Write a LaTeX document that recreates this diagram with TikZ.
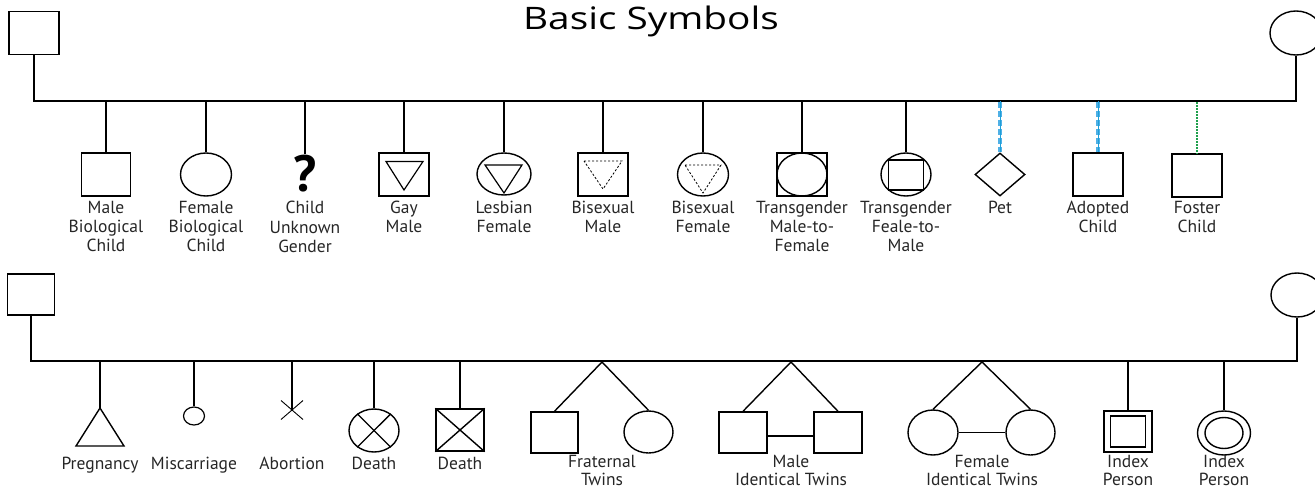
\documentclass[tikz,border=0pt]{standalone}
\usepackage{fontspec}
\setmainfont{PT Sans}
\newfontfamily\titlefont[FakeStretch=1.25]{Open Sans}
\usetikzlibrary{shapes.geometric,calc}
\definecolor{adoptblue}{HTML}{4FB0E6}
\definecolor{adoptline}{HTML}{1E9FD8}
\definecolor{fostergreen}{HTML}{1FA04C}
\begin{document}
\begin{tikzpicture}[x=1pt,y=-1pt,line width=1.4pt,
  sq/.style={draw,rectangle,minimum width=49pt,minimum height=43pt,inner sep=0pt},
  el/.style={draw,ellipse,minimum width=51pt,minimum height=43pt,inner sep=0pt},
  dia/.style={draw,diamond,minimum width=50pt,minimum height=43pt,inner sep=0pt},
  lbl/.style={font=\fontsize{17.5}{19.4}\selectfont,align=center,anchor=base,inner sep=0pt,text=black!85},
  lblb/.style={lbl,font=\fontsize{17.5}{18.6}\selectfont},
  thinl/.style={line width=0.9pt},
  dashtri/.style={line width=0.8pt,dash pattern=on 2.2pt off 1.8pt},
  adoptlink/.style={adoptline,line width=0.9pt},
  adoptdash/.style={adoptblue,line width=3.2pt,dash pattern=on 6pt off 3pt},
  fosterlink/.style={fostergreen,line width=2pt,dash pattern=on 1.6pt off 1.4pt}
]
\useasboundingbox (0,0) rectangle (1315,490);
% title
\node[font=\titlefont\fontsize{31}{33}\selectfont,anchor=base,inner sep=0pt] (title) at (651,29) {Basic Symbols};

% ---------- top row ----------
\node[sq,minimum width=50pt] (p1) at (34,33) {};
\node[el,minimum width=52pt,minimum height=44pt] (p2) at (1296,33) {};
\coordinate (b1) at (600,101);
\draw (p1.south) -- (p1.south |- b1) -- (p2.south |- b1) -- (p2.south);

\node[sq] (c1) at (106,174.5) {};
\node[el] (c2) at (206,174.5) {};
\node[font=\bfseries\fontsize{51}{51}\selectfont,anchor=base,inner sep=0pt] (c3) at (305,191) {?};
\node[sq,minimum width=50pt] (c4) at (404,174.5) {};
\draw[thinl,line width=1.2pt] ($(c4)+(-18,-13)$) -- ($(c4)+(19,-13)$) -- ($(c4)+(0,15.5)$) -- cycle;
\node[el,minimum width=54pt,minimum height=42pt] (c5) at (504,174) {};
\node[sq,minimum width=50pt] (c6) at (603,174.5) {};
\node[el] (c7) at (703,174.5) {};
\node[sq,minimum width=50pt] (c8) at (802,174.5) {};
\node[draw,ellipse,minimum width=50pt,minimum height=43pt,inner sep=0pt] (c8i) at (c8) {};
\node[el,minimum width=50pt] (c9) at (906,174.5) {};
\node[draw,rectangle,minimum width=35pt,minimum height=30pt,inner sep=0pt] (c9i) at (906,175) {};
\node[dia] (c10) at (1000,174.5) {};
\node[sq,minimum width=50pt] (c11) at (1098,174.5) {};
\node[sq,minimum width=50pt] (c12) at (1197,175.5) {};

\foreach \n in {c1,c2,c3,c4,c5,c6,c7,c8,c9}{
  \draw (\n.north |- b1) -- (\n.north);
}
\foreach \n in {c10,c11}{
  \draw[adoptdash] ([yshift=-1pt]\n.north |- b1) -- (\n.north);
  \draw[adoptlink] (\n.north |- b1) -- (\n.north);
}
\draw[fosterlink] ([yshift=-1pt]c12.north |- b1) -- (c12.north);

% triangles inside lesbian / bisexual
\draw[line width=1.2pt] (485,165) -- (522,165) -- (504,193) -- cycle;
\draw[dashtri] (584,161) -- (622,161) -- (603,189) -- cycle;
\draw[dashtri] (685,165) -- (721,165) -- (703,193) -- cycle;

% top labels (anchor = baseline of the last line)
\node[lbl] (l1) at (106,251.8) {Male\\Biological\\Child};
\node[lbl] (l2) at (206,251.8) {Female\\Biological\\Child};
\node[lbl] (l3) at (305,252.5) {Child\\Unknown\\Gender};
\node[lbl] (l4) at (404,232.4) {Gay\\Male};
\node[lbl] (l5) at (504,232.4) {Lesbian\\Female};
\node[lbl] (l6) at (603,232.4) {Bisexual\\Male};
\node[lbl] (l7) at (703,232.4) {Bisexual\\Female};
\node[lbl] (l8) at (802,251.8) {Transgender\\Male-to-\\Female};
\node[lbl] (l9) at (906,251.8) {Transgender\\Feale-to-\\Male};
\node[lbl] (l10) at (1000,213) {Pet};
\node[lbl] (l11) at (1098,232.4) {Adopted\\Child};
\node[lbl] (l12) at (1197,232.4) {Foster\\Child};

% ---------- bottom row ----------
\node[sq,minimum width=47pt,minimum height=41pt] (q1) at (31,294.5) {};
\node[el,minimum width=52pt,minimum height=44pt] (q2) at (1297,295) {};
\coordinate (b2) at (600,361);
\draw (q1.south) -- (q1.south |- b2) -- (q2.south |- b2) -- (q2.south);

% pregnancy
\coordinate (d1) at (100,408);
\draw (d1) -- (124,446) -- (76,446) -- cycle;
% miscarriage
\node[draw,ellipse,minimum width=21pt,minimum height=18pt,inner sep=0pt,line width=1.2pt] (d2) at (194,416) {};
% abortion
\coordinate (d3) at (292,410);
\draw[thinl] ($(d3)+(-11,-9.5)$) -- ($(d3)+(11,9.5)$);
\draw[thinl] ($(d3)+(-11,9.5)$) -- ($(d3)+(11,-9.5)$);
% death circle
\node[el,minimum width=50pt,minimum height=43pt] (d4) at (374,430.5) {};
\draw (d4.45) -- (d4.225);
\draw (d4.135) -- (d4.315);
% death square
\node[sq,minimum width=48pt,minimum height=42pt] (d5) at (460,430) {};
\draw (d5.north west) -- (d5.south east);
\draw (d5.north east) -- (d5.south west);

\foreach \n in {d1,d2,d4,d5}{
  \draw (\n |- b2) -- (\n.north);
}
\draw (d3 |- b2) -- (d3);

% fraternal twins
\coordinate (t1) at (602,362);
\node[sq,minimum width=47pt,minimum height=41pt] (t1a) at (554.5,432.5) {};
\node[el,minimum width=49pt,minimum height=42pt] (t1b) at (648.5,432) {};
\draw (t1a.north) -- (t1) -- (t1b.north);
% male identical twins
\coordinate (t2) at (791,362);
\node[sq,minimum width=48pt,minimum height=41pt] (t2a) at (743,432.5) {};
\node[sq,minimum width=48pt,minimum height=41pt] (t2b) at (838,432.5) {};
\draw (t2a.north) -- (t2) -- (t2b.north);
\draw[line width=1.1pt] ([yshift=-3.5pt]t2a.east) -- ([yshift=-3.5pt]t2b.west);
% female identical twins
\coordinate (t3) at (982,362);
\node[el,minimum width=50pt,minimum height=45pt] (t3a) at (933,432.5) {};
\node[el,minimum width=49pt,minimum height=45pt] (t3b) at (1030.5,432.5) {};
\draw (t3a.north) -- (t3) -- (t3b.north);
\draw[line width=1.1pt] (t3a.east) -- (t3b.west);
% index persons
\node[sq,minimum width=48pt,minimum height=41pt] (x1) at (1128,431.5) {};
\node[draw,rectangle,minimum width=35pt,minimum height=31pt,inner sep=0pt] (x1i) at (x1) {};
\node[el,minimum width=53pt,minimum height=44pt] (x2) at (1224,433) {};
\node[draw,ellipse,minimum width=38pt,minimum height=31pt,inner sep=0pt] (x2i) at (x2) {};
\draw (x1 |- b2) -- (x1.north);
\draw (x2 |- b2) -- (x2.north);

% bottom labels
\node[lbl] (m1) at (100,469) {Pregnancy};
\node[lbl] (m2) at (194,469) {Miscarriage};
\node[lbl] (m3) at (292,469) {Abortion};
\node[lbl] (m4) at (374,469) {Death};
\node[lbl] (m5) at (460,469) {Death};
\node[lblb] (m6) at (602,485.6) {Fraternal\\Twins};
\node[lblb] (m7) at (791,485.6) {Male\\Identical Twins};
\node[lblb] (m8) at (982,485.6) {Female\\Identical Twins};
\node[lblb] (m9) at (1128,485.6) {Index\\Person};
\node[lblb] (m10) at (1224,485.6) {Index\\Person};
\end{tikzpicture}
\end{document}
